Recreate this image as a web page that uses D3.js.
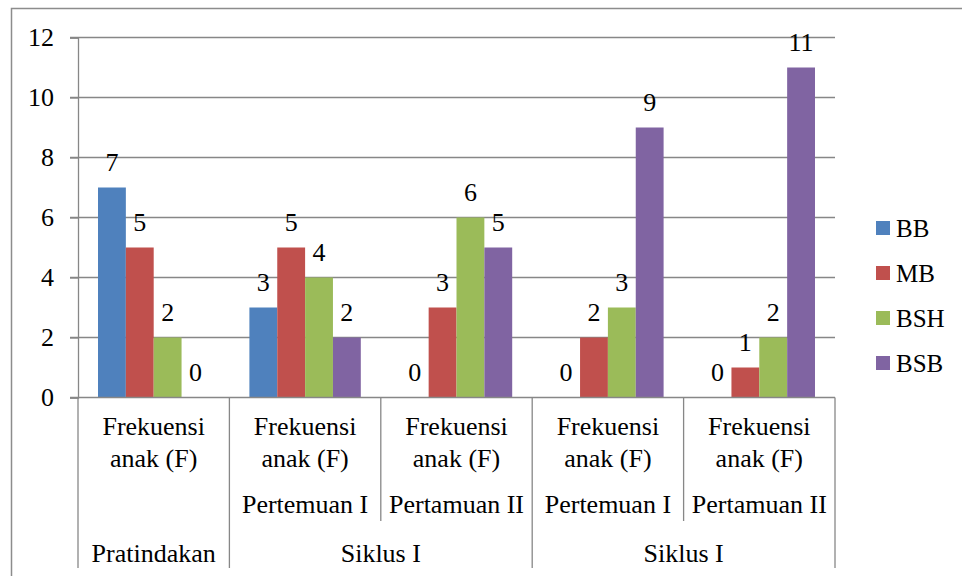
<!DOCTYPE html>
<html>
<head>
<meta charset="utf-8">
<script src="https://cdn.jsdelivr.net/npm/d3@7"></script>
<style>
  @font-face {
    font-family: "ChartSerif";
    src: local("Liberation Serif"), local("LiberationSerif"), local("LiberationSerif-Regular"), local("Times New Roman");
  }
  body { margin: 0; background: #fff; font-family: "Liberation Serif", "Times New Roman", serif; }
  svg, svg text, svg tspan { font-family: "Liberation Serif", "Times New Roman", serif; }
</style>
</head>
<body>
<div id="chart"></div>
<script>
// data
var groups = ['g1', 'g2', 'g3', 'g4', 'g5'];
var seriesNames = ['BB', 'MB', 'BSH', 'BSB'];
var seriesColors = ['#4F81BD', '#C0504D', '#9BBB59', '#8064A2'];
var valuesBB = [7, 3, 0, 0, 0];
var valuesMB = [5, 5, 3, 2, 1];
var valuesBSH = [2, 4, 6, 3, 2];
var valuesBSB = [0, 2, 5, 9, 11];
var level1Labels = ['Frekuensi|anak (F)', 'Frekuensi|anak (F)', 'Frekuensi|anak (F)', 'Frekuensi|anak (F)', 'Frekuensi|anak (F)'];
var level2Labels = ['', 'Pertemuan I', 'Pertamuan II', 'Pertemuan I', 'Pertamuan II'];
var level3Labels = [
    {name: 'Pratindakan', from: 0, to: 0},
    {name: 'Siklus I', from: 1, to: 2},
    {name: 'Siklus I', from: 3, to: 4}
];
var yTicks = [0, 2, 4, 6, 8, 10, 12];

var allValues = [valuesBB, valuesMB, valuesBSH, valuesBSB];

var W = 962, H = 576;
var plotLeft = 78, plotRight = 835, plotTop = 37.5, plotBottom = 397.5;
var gridColor = '#878787';
var fontSize = 26;
var serif = 'Liberation Serif';

var svg = d3.select('#chart').append('svg')
    .attr('width', W)
    .attr('height', H)
    .attr('font-family', serif);

// helper: every label in the same serif face
function txt(sel, size) {
    return sel.attr('font-family', serif)
        .style('font-family', '"Liberation Serif", "Times New Roman", serif')
        .style('font-size', (size || fontSize) + 'px')
        .attr('fill', '#000');
}

// outer frame (cropped on right / bottom)
svg.append('path')
    .attr('d', 'M11.5,' + (H + 2) + 'V8.5H' + (W + 2))
    .attr('fill', 'none')
    .attr('stroke', '#8c8c8c')
    .attr('stroke-width', 1.5);

var y = d3.scaleLinear().domain([0, 12]).range([plotBottom, plotTop]);
var x0 = d3.scaleBand().domain(groups).range([plotLeft, plotRight]).padding(0);
var gap = 20;
var x1 = d3.scaleBand().domain(seriesNames).range([gap, x0.bandwidth() - gap]).padding(0);

// gridlines
svg.append('g').selectAll('line')
    .data(yTicks.filter(function (d) { return d > 0; }))
    .enter().append('line')
    .attr('x1', plotLeft - 8).attr('x2', plotRight)
    .attr('y1', function (d) { return y(d); })
    .attr('y2', function (d) { return y(d); })
    .attr('stroke', gridColor)
    .attr('stroke-width', 1.3);

// y axis
var yAxis = svg.append('g')
    .attr('transform', 'translate(' + plotLeft + ',0)')
    .call(d3.axisLeft(y).tickValues(yTicks).tickSize(8).tickPadding(16));
yAxis.attr('font-family', serif).attr('font-size', null);
yAxis.select('.domain').attr('stroke', gridColor).attr('stroke-width', 1.3);
yAxis.selectAll('.tick line').attr('stroke', gridColor).attr('stroke-width', 1.3);
txt(yAxis.selectAll('.tick text'));

// bars
var barG = svg.append('g').selectAll('g')
    .data(groups)
    .enter().append('g')
    .attr('transform', function (d) { return 'translate(' + x0(d) + ',0)'; });

function rowOf(d, i) {
    return seriesNames.map(function (s, k) { return {s: s, k: k, v: allValues[k][i]}; });
}

barG.selectAll('rect')
    .data(rowOf)
    .enter().append('rect')
    .attr('x', function (d) { return x1(d.s); })
    .attr('width', x1.bandwidth())
    .attr('y', function (d) { return y(d.v); })
    .attr('height', function (d) { return y(0) - y(d.v); })
    .attr('fill', function (d) { return seriesColors[d.k]; });

txt(barG.selectAll('text.val')
    .data(rowOf)
    .enter().append('text')
    .attr('class', 'val')
    .attr('x', function (d) { return x1(d.s) + x1.bandwidth() / 2; })
    .attr('y', function (d) { return y(d.v) - 17; })
    .attr('text-anchor', 'middle')
    .text(function (d) { return d.v; }));

// x axis line
svg.append('line')
    .attr('x1', plotLeft - 8).attr('x2', plotRight)
    .attr('y1', plotBottom).attr('y2', plotBottom)
    .attr('stroke', gridColor)
    .attr('stroke-width', 1.3);

// category separators
var boundaries = d3.range(groups.length + 1).map(function (i) {
    return i < groups.length ? x0(groups[i]) : plotRight;
});
var majorIdx = [0, 1, 3, 5];
svg.append('g').selectAll('line')
    .data(boundaries)
    .enter().append('line')
    .attr('x1', function (d) { return d; })
    .attr('x2', function (d) { return d; })
    .attr('y1', plotBottom)
    .attr('y2', function (d, i) { return majorIdx.indexOf(i) >= 0 ? 568 : 521; })
    .attr('stroke', gridColor)
    .attr('stroke-width', 1.3);

// level 1 labels, two lines each
var l1 = svg.append('g').selectAll('g')
    .data(level1Labels)
    .enter().append('g');
txt(l1.selectAll('text')
    .data(function (d, i) {
        return d.split('|').map(function (t, j) { return {t: t, i: i, j: j}; });
    })
    .enter().append('text')
    .attr('x', function (d) { return x0(groups[d.i]) + x0.bandwidth() / 2; })
    .attr('y', function (d) { return 435 + d.j * 31.5; })
    .attr('text-anchor', 'middle')
    .text(function (d) { return d.t; }));

// level 2 labels
txt(svg.append('g').selectAll('text')
    .data(level2Labels)
    .enter().append('text')
    .attr('x', function (d, i) { return x0(groups[i]) + x0.bandwidth() / 2; })
    .attr('y', 513)
    .attr('text-anchor', 'middle')
    .text(function (d) { return d; }));

// level 3 labels
txt(svg.append('g').selectAll('text')
    .data(level3Labels)
    .enter().append('text')
    .attr('x', function (d) {
        return (x0(groups[d.from]) + x0(groups[d.to]) + x0.bandwidth()) / 2;
    })
    .attr('y', 562)
    .attr('text-anchor', 'middle')
    .text(function (d) { return d.name; }));

// legend
var legend = svg.append('g').selectAll('g')
    .data(seriesNames)
    .enter().append('g')
    .attr('transform', function (d, i) { return 'translate(876,' + (221 + i * 45) + ')'; });
legend.append('rect')
    .attr('width', 14).attr('height', 14)
    .attr('fill', function (d, i) { return seriesColors[i]; });
txt(legend.append('text')
    .attr('x', 20).attr('y', 16)
    .text(function (d) { return d; }), 25);
</script>
</body>
</html>
